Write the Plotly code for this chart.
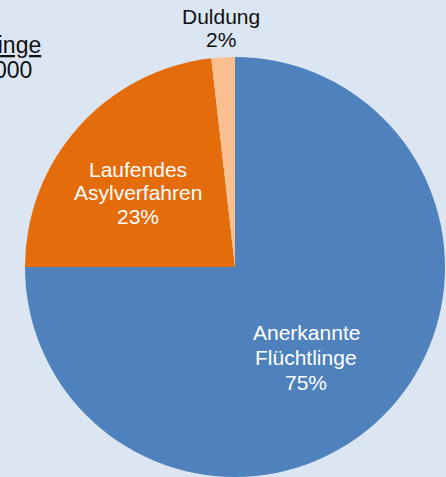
import plotly.graph_objects as go

# ---- data ----
categories = ["Anerkannte Flüchtlinge", "Laufendes Asylverfahren", "Duldung"]
shares = [75.0, 23.2, 1.8]
label_lines = [["Anerkannte", "Flüchtlinge"], ["Laufendes", "Asylverfahren"], ["Duldung"]]
title_lines = ["<u>Flüchtlinge</u>", "1.000.000"]

# ---- style ----
W, H = 446, 477
colors = ["#4F81BD", "#E46C0A", "#FAC090"]
bg = "#DCE6F2"
FONT = "Liberation Sans, Arial, sans-serif"
label_pos = [  # (center x px, first baseline px, line spacing px, color)
    (306, 339, 25, "white"),
    (138, 176, 23.6, "white"),
    (221, 24, 22.7, "#111111"),
]
title_pos = [(43, 52.0), (34, 78.0)]  # (right edge px, baseline px)

fig = go.Figure(go.Pie(
    labels=categories, values=shares, sort=False,
    direction="clockwise", rotation=0,
    marker=dict(colors=colors, line=dict(width=0)),
    textinfo="none", hoverinfo="label+percent",
    domain=dict(x=[25 / W, 445 / W], y=[0, 420 / H]),
    showlegend=False,
))

total = sum(shares)
annotations = []
for lines, v, (cx, b0, sp, col) in zip(label_lines, shares, label_pos):
    all_lines = lines + [f"{round(v / total * 100)}%"]
    for i, t in enumerate(all_lines):
        b = b0 + i * sp
        annotations.append(dict(
            text=t, x=cx / W, y=1 - (b - 7) / H, xref="paper", yref="paper",
            xanchor="center", yanchor="middle", showarrow=False,
            font=dict(family=FONT, size=21, color=col),
        ))

for t, (rx, b) in zip(title_lines, title_pos):
    annotations.append(dict(
        text=t, x=rx / W, y=1 - (b - 7.5) / H, xref="paper", yref="paper",
        xanchor="right", yanchor="middle", showarrow=False,
        font=dict(family=FONT, size=23, color="#111111"),
    ))

fig.update_layout(
    width=W, height=H, margin=dict(l=0, r=0, t=0, b=0),
    paper_bgcolor=bg, plot_bgcolor=bg,
    annotations=annotations,
)
fig.write_html(
    "out.html",
    config={"displayModeBar": False},
    post_script=(
        "document.body.style.margin='0';"
        "document.body.style.overflow='hidden';"
        f"document.body.style.background='{bg}';"
    ),
)
